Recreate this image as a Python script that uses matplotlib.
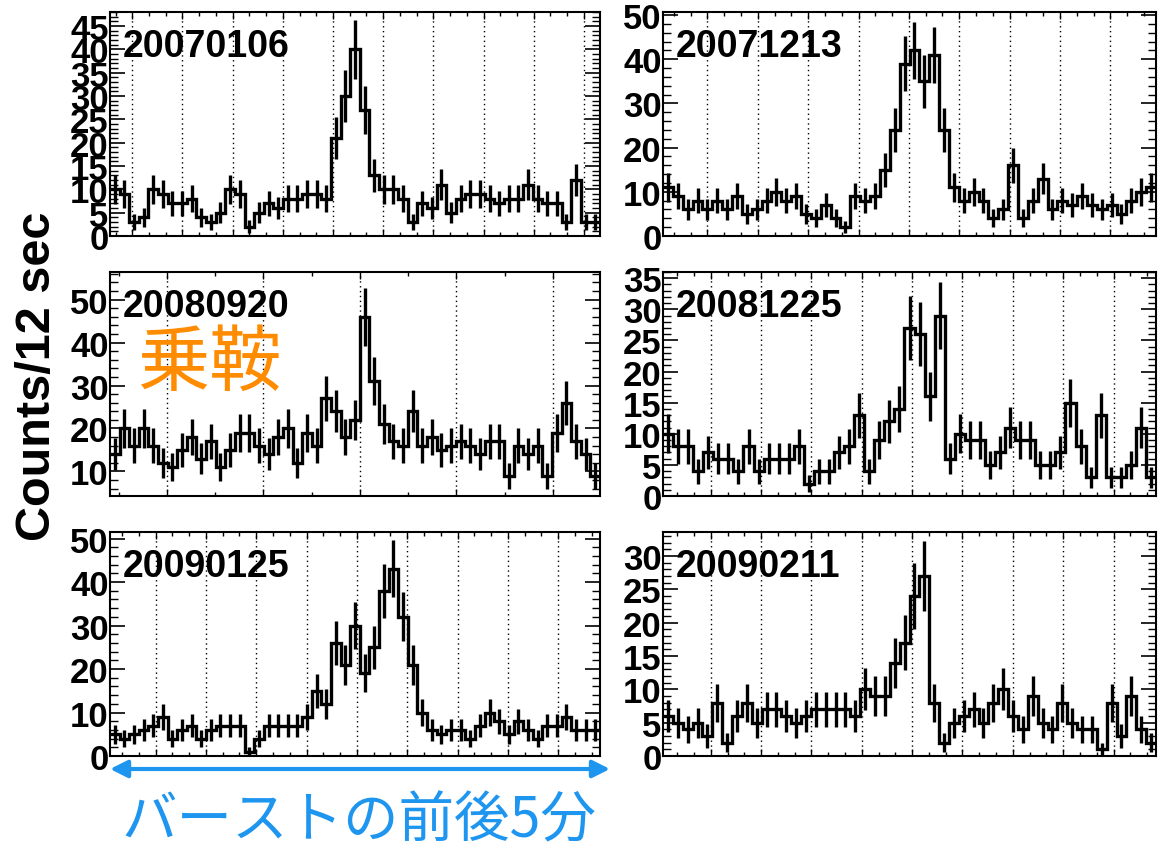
import numpy as np
import matplotlib.pyplot as plt
from matplotlib.patches import FancyArrowPatch
from matplotlib.ticker import MultipleLocator, FixedLocator, NullFormatter

plt.rcParams['font.family'] = ['Liberation Sans', 'DejaVu Sans']

# counts per 12 s bin
dates = ["20070106", "20071213", "20080920", "20081225", "20090125", "20090211"]
counts_20070106 = [10, 9, 3, 4, 10, 9, 7, 7, 8, 4, 3, 5, 10, 9, 2, 5, 7, 6, 8, 8, 9, 9, 8,
                   21, 30, 40, 27, 13, 10, 10, 8, 3, 7, 6, 11, 5, 8, 9, 9, 8, 7, 8, 8, 11,
                   8, 7, 7, 3, 12, 3, 3]
counts_20071213 = [11, 9, 6, 8, 6, 8, 6, 9, 5, 6, 8, 10, 8, 9, 5, 4, 7, 4, 2, 9, 8, 9, 15,
                   24, 39, 42, 35, 41, 24, 11, 8, 10, 8, 4, 6, 16, 4, 8, 13, 6, 8, 7, 9, 7,
                   6, 7, 5, 8, 10, 11]
counts_20080920 = [14, 20, 16, 20, 16, 12, 11, 15, 18, 13, 17, 11, 15, 19, 19, 16, 14, 18,
                   20, 12, 19, 16, 27, 24, 18, 22, 46, 31, 21, 17, 16, 24, 16, 18, 15, 16,
                   17, 16, 14, 17, 17, 9, 16, 14, 16, 9, 19, 26, 17, 14, 9]
counts_20081225 = [10, 8, 8, 4, 7, 6, 6, 4, 8, 4, 6, 6, 6, 8, 2, 4, 4, 7, 8, 13, 4, 9, 12,
                   14, 27, 26, 16, 29, 6, 10, 9, 9, 5, 7, 11, 9, 9, 5, 5, 7, 15, 8, 3, 13,
                   3, 3, 5, 11, 3]
counts_20090125 = [5, 4, 5, 6, 7, 9, 4, 6, 7, 4, 6, 7, 7, 7, 1, 4, 7, 7, 7, 7, 9, 15, 12,
                   26, 21, 30, 19, 25, 38, 43, 32, 21, 10, 6, 5, 6, 6, 4, 7, 10, 8, 5, 8, 6,
                   4, 7, 7, 9, 6, 6, 6]
counts_20090211 = [6, 5, 4, 5, 3, 8, 2, 6, 8, 5, 7, 7, 6, 5, 6, 7, 7, 7, 7, 6, 10, 9, 9,
                   14, 17, 24, 27, 8, 2, 5, 6, 7, 5, 8, 10, 6, 4, 9, 5, 4, 8, 5, 4, 4, 1, 8,
                   3, 9, 4, 2]
all_counts = [counts_20070106, counts_20071213, counts_20080920,
              counts_20081225, counts_20090125, counts_20090211]

ylims = [(0, 48), (0, 50.7), (4.3, 56.4), (0, 36), (0, 51.5), (0, 33.6)]
y_major = [5, 10, 10, 5, 10, 5]
y_minor = [1, 2, 2, 1, 2, 1]
# dotted time grid: first line (axes fraction), spacing, number of lines, minor ticks per step
grid_first = [0.0455, 0.090, 0.116, 0.097, 0.093, 0.097]
grid_step = [0.1024, 0.1022, 0.197, 0.1021, 0.1027, 0.1021]
grid_n = [10, 9, 5, 9, 9, 9]
grid_sub = [3, 3, 2, 3, 3, 3]

W, H = 1165, 853
col_x = [(110, 490), (663, 493)]
row_y = [(13, 237), (273, 497), (533, 757)]

fig = plt.figure(figsize=(W / 100, H / 100), dpi=100)

for i, vals in enumerate(all_counts):
    r, c = divmod(i, 2)
    x0, w = col_x[c]
    yt, yb = row_y[r]
    ax = fig.add_axes([x0 / W, 1 - yb / H, w / W, (yb - yt) / H])

    vals = np.array(vals, dtype=float)
    n = len(vals)
    edges = np.arange(n + 1)
    centers = edges[:-1] + 0.5
    ax.stairs(vals, edges, baseline=None, color='black', lw=2.4)
    ax.errorbar(centers, vals, yerr=np.sqrt(vals), fmt='none', ecolor='black',
                elinewidth=2.4, capsize=0)

    ax.set_xlim(0, n)
    ax.set_ylim(*ylims[i])

    grid = (grid_first[i] + grid_step[i] * np.arange(grid_n[i])) * n
    for g in grid:
        ax.axvline(g, color='black', lw=1.0, ls=(0, (1, 2.5)), zorder=0)
    mstep = grid_step[i] / grid_sub[i]
    mstart = grid_first[i] - np.floor(grid_first[i] / mstep) * mstep
    minors = np.arange(mstart, 1.0, mstep) * n
    ax.xaxis.set_major_locator(FixedLocator(grid))
    ax.xaxis.set_minor_locator(FixedLocator(minors))
    ax.xaxis.set_major_formatter(NullFormatter())

    ax.yaxis.set_major_locator(MultipleLocator(y_major[i]))
    ax.yaxis.set_minor_locator(MultipleLocator(y_minor[i]))

    ax.tick_params(axis='x', which='major', direction='in', top=True, bottom=True,
                   length=5, width=1.0)
    ax.tick_params(axis='x', which='minor', direction='in', top=True, bottom=True,
                   length=2.8, width=1.0)
    ax.tick_params(axis='y', which='major', direction='in', left=True, right=True,
                   length=10.5, width=1.2, pad=1, labelsize=25)
    ax.tick_params(axis='y', which='minor', direction='in', left=True, right=True,
                   length=5.5, width=1.0)
    for lab in ax.get_yticklabels():
        lab.set_fontweight('bold')
    for sp in ax.spines.values():
        sp.set_linewidth(1.5)

    ax.text(0.025, 0.93, dates[i], transform=ax.transAxes, fontsize=27,
            fontweight='bold', ha='left', va='top')

fig.text(38 / W, 1 - 376 / H, "Counts/12 sec", rotation=90, fontsize=35,
         fontweight='bold', ha='center', va='center')

fig.text(137 / W, 1 - 364 / H, "乗鞍", fontsize=52, color='#FF8C00',
         family=['Noto Sans CJK JP', 'DejaVu Sans'], ha='left', va='center')

blue = '#1E96F0'
arrow = FancyArrowPatch((110 / W, 1 - 770 / H), (610 / W, 1 - 770 / H),
                        transform=fig.transFigure, arrowstyle='<|-|>',
                        mutation_scale=26, lw=3, color=blue,
                        shrinkA=0, shrinkB=0)
fig.add_artist(arrow)
fig.text(359 / W, 1 - 822 / H, "バーストの前後5分", fontsize=40, color=blue,
         family=['Noto Sans CJK JP', 'DejaVu Sans'], ha='center', va='center')

fig.savefig("out.png", dpi=100)
